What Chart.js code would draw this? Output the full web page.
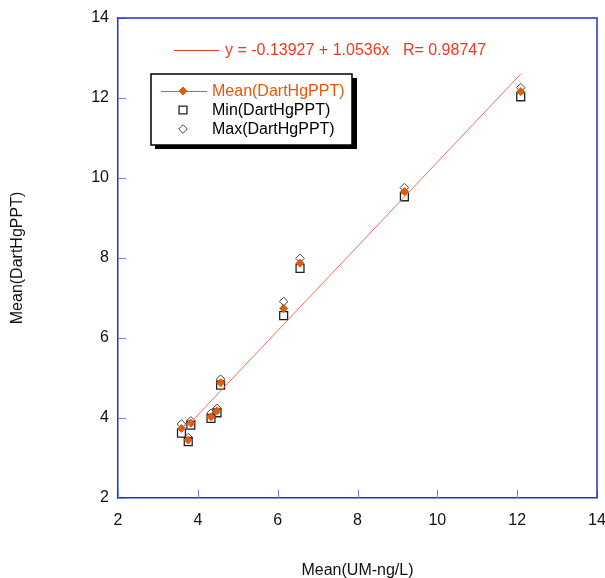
<!DOCTYPE html>
<html>
<head>
<meta charset="utf-8">
<script src="https://cdn.jsdelivr.net/npm/chart.js@4"></script>
<style>
  html, body { margin: 0; padding: 0; background: #fff; }
  #wrap { width: 605px; height: 578px; position: relative; }
</style>
</head>
<body>
<div id="wrap"><canvas id="chart"></canvas></div>
<script>
// values
const umMean = [3.59, 3.76, 3.825, 4.33, 4.48, 4.57, 6.15, 6.56, 9.175, 12.09];
const dartMean = [3.74, 3.45, 3.87, 4.03, 4.18, 4.88, 6.74, 7.87, 9.66, 12.16];
const dartMin = [3.62, 3.41, 3.82, 3.99, 4.13, 4.82, 6.56, 7.74, 9.53, 12.03];
const dartMax = [3.85, 3.51, 3.93, 4.12, 4.24, 4.97, 6.91, 7.99, 9.76, 12.26];

const fitIntercept = -0.13927;
const fitSlope = 1.0536;
const fitR = 0.98747;

const axisTicks = [2, 4, 6, 8, 10, 12, 14];

const FONT = '"Liberation Sans", Arial, sans-serif';
const BLUE = '#2233cc';
const TICK_BLUE = '#6f80e4';
const ORANGE = '#e25a0c';
const RED = '#ee3a22';

const toPoints = (xs, ys) => xs.map((x, i) => ({ x, y: ys[i] }));

const xLo = Math.min(...umMean);
const xHi = Math.max(...umMean);
const fitLine = [xLo, xHi].map(x => ({ x, y: fitIntercept + fitSlope * x }));

// box frame + inward tick marks
const framePlugin = {
  id: 'frame',
  afterDatasetsDraw(chart) {
    const { ctx, chartArea: a, scales: { x, y } } = chart;
    ctx.save();
    ctx.strokeStyle = TICK_BLUE;
    ctx.lineWidth = 1;
    axisTicks.forEach(v => {
      const px = Math.round(x.getPixelForValue(v)) + 0.5;
      ctx.beginPath();
      ctx.moveTo(px, a.bottom);
      ctx.lineTo(px, a.bottom - 8);
      ctx.stroke();
      const py = Math.round(y.getPixelForValue(v)) + 0.5;
      ctx.beginPath();
      ctx.moveTo(a.left, py);
      ctx.lineTo(a.left + 8, py);
      ctx.stroke();
    });
    ctx.strokeStyle = BLUE;
    ctx.lineWidth = 1.5;
    ctx.beginPath();
    ctx.moveTo(a.left, a.top);
    ctx.lineTo(a.right, a.top);
    ctx.lineTo(a.right, a.bottom);
    ctx.stroke();
    ctx.restore();
  }
};

// legend box and fit equation, as in the original
const notePlugin = {
  id: 'notes',
  afterDraw(chart) {
    const { ctx } = chart;
    ctx.save();

    // equation
    ctx.strokeStyle = RED;
    ctx.lineWidth = 1;
    ctx.beginPath();
    ctx.moveTo(174, 50.5);
    ctx.lineTo(219, 50.5);
    ctx.stroke();
    ctx.fillStyle = RED;
    ctx.font = '16px ' + FONT;
    ctx.textBaseline = 'middle';
    ctx.fillText('y = ' + fitIntercept + ' + ' + fitSlope + 'x   R= ' + fitR, 225, 51);

    // legend box with shadow
    ctx.fillStyle = '#000';
    ctx.fillRect(155, 78, 202, 71);
    ctx.fillStyle = '#fff';
    ctx.fillRect(151, 74, 201, 71);
    ctx.strokeStyle = '#000';
    ctx.lineWidth = 1.5;
    ctx.strokeRect(151, 74, 201, 71);

    const rows = chart.data.datasets.filter(d => d.legendRow != null);
    rows.forEach(d => {
      const ry = 91 + d.legendRow * 19;
      if (d.legendRow === 0) {
        ctx.strokeStyle = ORANGE;
        ctx.lineWidth = 1.2;
        ctx.beginPath();
        ctx.moveTo(161, ry + 0.5);
        ctx.lineTo(207, ry + 0.5);
        ctx.stroke();
      }
      ctx.fillStyle = d.backgroundColor;
      ctx.strokeStyle = d.borderColor;
      ctx.lineWidth = d.borderWidth;
      Chart.helpers.drawPoint(ctx, {
        pointStyle: d.pointStyle,
        radius: d.pointRadius,
        borderWidth: d.borderWidth
      }, 183, ry);
      ctx.fillStyle = d.legendRow === 0 ? ORANGE : '#000';
      ctx.font = '16px ' + FONT;
      ctx.textBaseline = 'middle';
      ctx.fillText(d.label, 212, ry + 1);
    });
    ctx.restore();
  }
};

const ctx = document.getElementById('chart').getContext('2d');
new Chart(ctx, {
  type: 'scatter',
  data: {
    datasets: [
      {
        type: 'line',
        label: 'fit',
        data: fitLine,
        borderColor: '#f2705c',
        borderWidth: 1,
        pointRadius: 0,
        showLine: true,
        fill: false
      },
      {
        label: 'Mean(DartHgPPT)',
        data: toPoints(umMean, dartMean),
        pointStyle: 'rectRot',
        pointRadius: 4,
        backgroundColor: ORANGE,
        borderColor: ORANGE,
        borderWidth: 1,
        legendRow: 0
      },
      {
        label: 'Min(DartHgPPT)',
        data: toPoints(umMean, dartMin),
        pointStyle: 'rect',
        pointRadius: 5.6,
        backgroundColor: 'rgba(255,255,255,0)',
        borderColor: '#222',
        borderWidth: 1.3,
        legendRow: 1
      },
      {
        label: 'Max(DartHgPPT)',
        data: toPoints(umMean, dartMax),
        pointStyle: 'rectRot',
        pointRadius: 4.3,
        backgroundColor: 'rgba(255,255,255,0)',
        borderColor: '#444',
        borderWidth: 1,
        legendRow: 2
      }
    ]
  },
  options: {
    responsive: true,
    maintainAspectRatio: false,
    animation: false,
    layout: { padding: { top: 18, right: 8, left: 0, bottom: 0 } },
    scales: {
      x: {
        type: 'linear',
        min: 2,
        max: 14,
        afterFit: s => { s.height = 80; s.paddingLeft = 0; s.paddingRight = 0; },
        afterBuildTicks: s => { s.ticks = axisTicks.map(v => ({ value: v })); },
        grid: { drawOnChartArea: false, drawTicks: false },
        border: { display: true, color: BLUE, width: 1.5 },
        ticks: { color: '#111', padding: 13, font: { family: FONT, size: 16 } },
        title: {
          display: true,
          text: 'Mean(UM-ng/L)',
          color: '#111',
          padding: { top: 0, bottom: -2 },
          font: { family: FONT, size: 16 }
        }
      },
      y: {
        type: 'linear',
        min: 2,
        max: 14,
        afterFit: s => { s.width = 118; s.paddingTop = 0; s.paddingBottom = 0; },
        afterBuildTicks: s => { s.ticks = axisTicks.map(v => ({ value: v })); },
        grid: { drawOnChartArea: false, drawTicks: false },
        border: { display: true, color: BLUE, width: 1.5 },
        ticks: { color: '#111', padding: 9, font: { family: FONT, size: 16 } },
        title: {
          display: true,
          text: 'Mean(DartHgPPT)',
          color: '#111',
          padding: { top: 7.5, bottom: 0 },
          font: { family: FONT, size: 16 }
        }
      }
    },
    plugins: {
      legend: { display: false },
      tooltip: { enabled: false }
    }
  },
  plugins: [framePlugin, notePlugin]
});
</script>
</body>
</html>
